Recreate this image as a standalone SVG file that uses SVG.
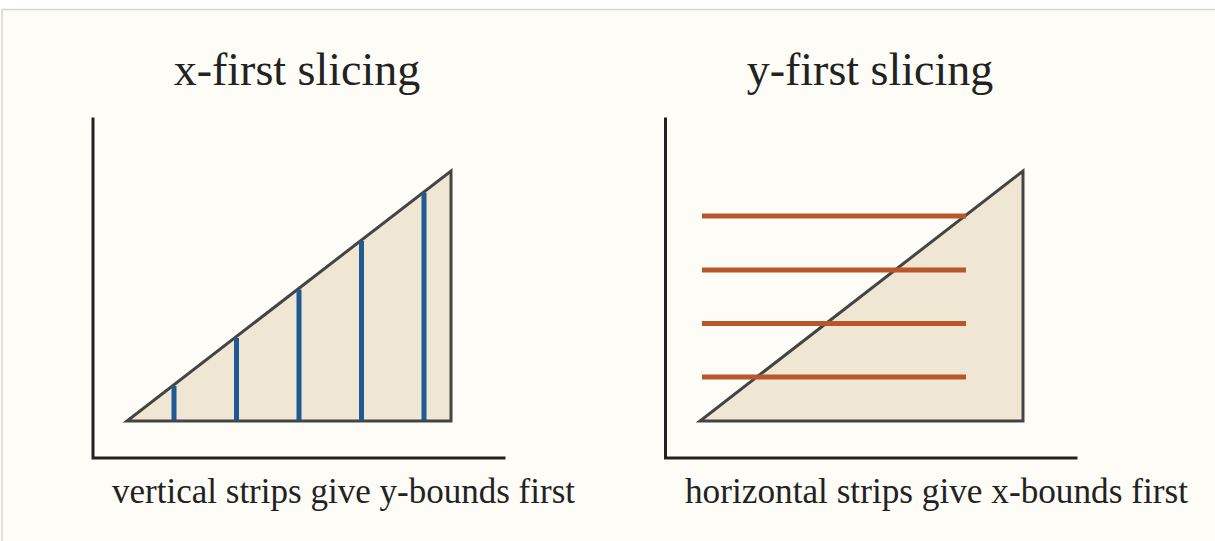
<svg xmlns="http://www.w3.org/2000/svg" width="1215" height="541" viewBox="0 0 1215 541">
  <style>
    .title { font-family: "Liberation Serif", "DejaVu Serif", serif; font-size: 46px; fill: #222; text-anchor: middle; }
    .caption { font-family: "Liberation Serif", "DejaVu Serif", serif; font-size: 35px; fill: #222; }
    .axis { stroke: #222; stroke-width: 3; fill: none; stroke-linecap: square; }
    .tri { fill: #efe6d3; stroke: #444; stroke-width: 3; stroke-linejoin: miter; }
    .vstrip { stroke: #1f5a94; stroke-width: 5; }
    .hstrip { stroke: #b9562b; stroke-width: 5; }
  </style>
  <rect x="0" y="0" width="1215" height="541" fill="#ffffff"/>
  <rect x="2" y="9.5" width="1215" height="535" fill="#fdfcf7" stroke="#d9d4c9" stroke-width="1.5"/>

  <g id="left-panel">
    <text class="title" x="297" y="85">x-first slicing</text>
    <polyline class="axis" points="93,119 93,458 504,458"/>
    <polygon class="tri" points="127,421 451,421 451,171"/>
    <g id="vertical-strips">
      <line class="vstrip" x1="174" y1="420" x2="174" y2="386"/>
      <line class="vstrip" x1="236.5" y1="420" x2="236.5" y2="338"/>
      <line class="vstrip" x1="299" y1="420" x2="299" y2="289.5"/>
      <line class="vstrip" x1="361.5" y1="420" x2="361.5" y2="241"/>
      <line class="vstrip" x1="424" y1="420" x2="424" y2="192.5"/>
    </g>
    <text class="caption" x="112" y="503" textLength="463" lengthAdjust="spacingAndGlyphs">vertical strips give y-bounds first</text>
  </g>

  <g id="right-panel">
    <text class="title" x="870" y="85">y-first slicing</text>
    <polyline class="axis" points="665.5,119 665.5,458 1076,458"/>
    <polygon class="tri" points="700,421 1023,421 1023,171"/>
    <g id="horizontal-strips">
      <line class="hstrip" x1="702" y1="216" x2="966" y2="216"/>
      <line class="hstrip" x1="702" y1="270" x2="966" y2="270"/>
      <line class="hstrip" x1="702" y1="323.5" x2="966" y2="323.5"/>
      <line class="hstrip" x1="702" y1="377" x2="966" y2="377"/>
    </g>
    <text class="caption" x="685" y="503" textLength="503" lengthAdjust="spacingAndGlyphs">horizontal strips give x-bounds first</text>
  </g>
</svg>
